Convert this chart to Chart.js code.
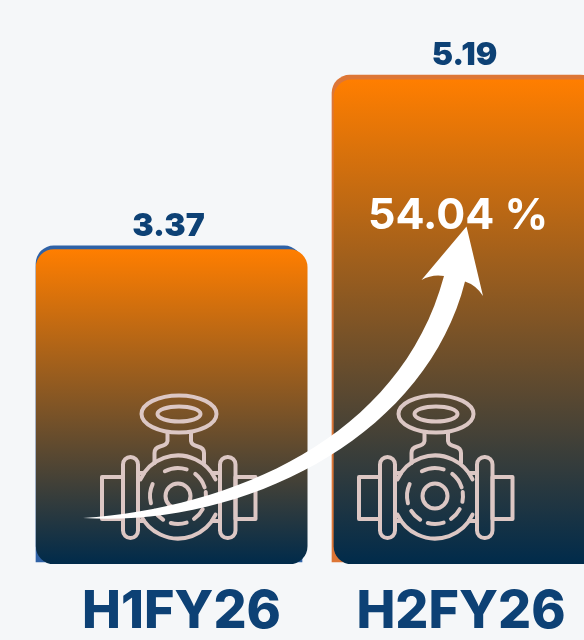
<!DOCTYPE html>
<html><head><meta charset="utf-8">
<style>html,body{margin:0;padding:0;background:#f5f7f9;overflow:hidden;width:584px;height:640px}canvas{display:block}</style>
<script src="https://cdn.jsdelivr.net/npm/chart.js@4"></script></head>
<body><canvas id="c" width="640" height="640"></canvas>
<script>
const categories = ["H1FY26", "H2FY26"];
const values = [3.37, 5.19];
const growthLabel = "54.04 %";
const backColors = ["#2f62a6", "#dd7636"];
const labelNudge = [12.5, -4];
const valueColor = "#0d4175";

const decor = {
  id: "decor",
  afterDatasetsDraw(chart) {
    const c = chart.ctx, back = chart.getDatasetMeta(0).data;
    [179, 436].forEach(x => valve(c, x));
    arrow(c);
    c.save();
    c.textAlign = "center"; c.textBaseline = "alphabetic";
    c.fillStyle = valueColor;
    c.font = "900 32px Inter";
    back.forEach((b, i) => c.fillText(values[i].toFixed(2), b.x - 0.5, b.y - 10));
    c.fillStyle = "#ffffff";
    c.font = "700 43px Inter";
    c.fillText(growthLabel, 458, 229);
    c.restore();
  }
};
function valve(c, cx) {
  c.save();
  c.translate(cx - 179, 0);
  c.strokeStyle = "#dcc7c4"; c.lineWidth = 4; c.lineCap = "round"; c.lineJoin = "round";
  const p = f => { c.beginPath(); f(); c.stroke(); };
  p(() => c.ellipse(179, 414, 37.5, 18.5, 0, 0, 7));
  p(() => c.ellipse(179, 414, 21.5, 7.5, 0, 0, 7));
  p(() => { c.moveTo(167.5, 433); c.lineTo(167.5, 441); c.quadraticCurveTo(167, 445, 160, 446.5); c.quadraticCurveTo(154.5, 448, 154.5, 453); c.lineTo(154.5, 463); });
  p(() => { c.moveTo(191, 433); c.lineTo(191, 441); c.quadraticCurveTo(191.5, 445, 198, 446.5); c.quadraticCurveTo(204, 448, 204, 453); c.lineTo(204, 463); });
  // flanges and end pipes
  p(() => c.roundRect(123, 457, 15, 81, 7.5));
  p(() => c.roundRect(220, 457, 15.5, 81, 7.5));
  p(() => c.rect(102, 477, 21, 42));
  p(() => c.rect(235.5, 477, 20, 42));
  // body
  p(() => c.arc(178, 497, 41.5, -Math.PI * 0.86, -Math.PI * 0.14));
  p(() => c.arc(178, 497, 41.5, Math.PI * 0.14, Math.PI * 0.86));
  p(() => { c.moveTo(138, 473); c.lineTo(144, 473); c.moveTo(212, 473); c.lineTo(220, 473); c.moveTo(138, 521); c.lineTo(144, 521); c.moveTo(212, 521); c.lineTo(220, 521); });
  // inner rings
  p(() => c.arc(178, 496, 12.5, 0, 7));
  [[-118, -72], [-52, -18], [165, 205], [122, 148], [72, 105], [28, 55], [-8, 12]].forEach(a =>
    p(() => c.arc(178, 496, 28, a[0] * Math.PI / 180, a[1] * Math.PI / 180)));
  c.restore();
}
function arrow(c) {
  c.save();
  c.fillStyle = "#ffffff";
  c.beginPath();
  c.moveTo(83, 518);
  c.bezierCurveTo(230, 508, 400, 440, 444, 276);
  c.quadraticCurveTo(432, 274, 421.5, 280);
  c.lineTo(466.5, 226.5);
  c.lineTo(483, 296);
  c.quadraticCurveTo(476, 285, 465, 281.5);
  c.bezierCurveTo(425, 440, 240, 528, 83, 518);
  c.closePath();
  c.fill();
  c.restore();
}
new Chart(document.getElementById("c"), {
  type: "bar",
  data: {
    labels: categories,
    datasets: [
      { data: values, backgroundColor: backColors, xAxisID: "x", yAxisID: "y", grouped: false, order: 2,
        barThickness: 266,
        borderRadius: { topLeft: 18, topRight: 18, bottomLeft: 0, bottomRight: 0 }, borderSkipped: false },
      { data: values.map((v, i) => ({ x: i, y: v })), xAxisID: "x2", yAxisID: "y2", barThickness: 271, grouped: false, order: 1,
        borderRadius: 18, borderSkipped: false,
        backgroundColor: ctx => {
          const ch = ctx.chart;
          if (!ch.chartArea || ctx.dataIndex === undefined) return "#ff7e00";
          const s = ch.scales.y2;
          const g = ch.ctx.createLinearGradient(0, s.getPixelForValue(values[ctx.dataIndex]), 0, s.getPixelForValue(0));
          g.addColorStop(0, "#ff7e00"); g.addColorStop(1, "#002b4b");
          return g;
        } }
    ]
  },
  options: {
    responsive: false, animation: false, events: [],
    layout: { padding: { left: 21, right: 27, top: 0, bottom: 0 } },
    plugins: { legend: { display: false }, tooltip: { enabled: false } },
    scales: {
      x: { type: "category", position: "bottom", grid: { display: false, drawTicks: false }, border: { display: false },
        ticks: { color: valueColor, font: { family: "Inter", weight: "800", size: 52 }, padding: 17, maxRotation: 0, minRotation: 0, autoSkip: false },
        afterFit: s => { s.height = 76; const f = Object.getPrototypeOf(s).getPixelForTick; s.getPixelForTick = i => f.call(s, i) + labelNudge[i]; } },
      x2: { type: "linear", display: false, offset: false, min: -0.506, max: 1.482 },
      y: { display: false, min: -0.0213, max: 5.991 },
      y2: { display: false, min: 0, max: 6.045 }
    }
  },
  plugins: [decor]
});
</script></body></html>
